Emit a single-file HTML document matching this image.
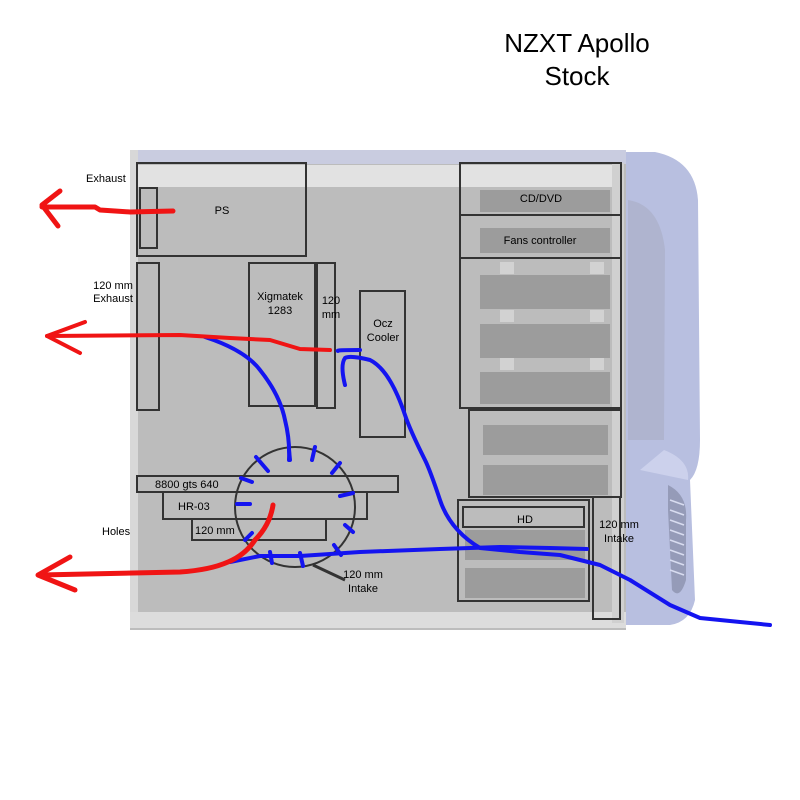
<!DOCTYPE html>
<html><head><meta charset="utf-8"><style>
html,body{margin:0;padding:0;background:#fff;}
svg{display:block;}
text{font-family:"Liberation Sans",sans-serif;fill:#000;}
</style></head><body>
<svg width="800" height="800" viewBox="0 0 800 800" xmlns="http://www.w3.org/2000/svg">
<rect width="800" height="800" fill="#fff"/>
<text x="577" y="52" font-size="26" text-anchor="middle">NZXT Apollo</text>
<text x="577" y="85" font-size="26" text-anchor="middle">Stock</text>
<!-- front panel -->
<path d="M600 152 L655 152 Q695 160 698 200 L700 440 Q700 470 690 480 L695 600 Q690 622 670 625 L600 625 Z" fill="#b8bfe0"/>
<path d="M628 200 Q660 205 665 250 L664 440 L628 440 Z" fill="#a6a9bd" opacity="0.5"/>
<path d="M664 450 Q690 460 688 480 L640 470 Z" fill="#ccd1ec"/>
<path d="M668 485 Q688 495 686 520 L686 580 Q680 600 672 590 L668 510 Z" fill="#959bb8"/>
<g stroke="#d8dcf0" stroke-width="1.5">
<line x1="670" y1="500" x2="684" y2="505"/><line x1="670" y1="510" x2="684" y2="515"/><line x1="670" y1="520" x2="684" y2="525"/><line x1="670" y1="530" x2="684" y2="535"/><line x1="670" y1="540" x2="684" y2="545"/><line x1="670" y1="550" x2="684" y2="555"/><line x1="670" y1="560" x2="684" y2="565"/><line x1="670" y1="570" x2="684" y2="575"/>
</g>
<!-- case body -->
<rect x="130" y="150" width="496" height="480" fill="#bcbcbc"/>
<rect x="130" y="150" width="496" height="14" fill="#c9cce0"/>
<rect x="137" y="165" width="484" height="22" fill="#e2e2e2"/>
<rect x="130" y="150" width="8" height="478" fill="#d8d8d8"/>
<rect x="130" y="612" width="496" height="16" fill="#dcdcdc"/>
<rect x="612" y="163" width="12" height="460" fill="#d0d0d0"/>
<g fill="#9c9c9c">
<rect x="480" y="190" width="130" height="22"/><rect x="480" y="228" width="130" height="25"/>
<rect x="480" y="275" width="130" height="34"/><rect x="480" y="324" width="130" height="34"/><rect x="480" y="372" width="130" height="32"/>
<rect x="483" y="425" width="125" height="30"/><rect x="483" y="465" width="125" height="30"/>
<rect x="465" y="530" width="120" height="30"/><rect x="465" y="568" width="120" height="30"/>
</g>
<g fill="#d2d2d2"><rect x="500" y="262" width="14" height="12"/><rect x="590" y="262" width="14" height="12"/><rect x="500" y="310" width="14" height="12"/><rect x="590" y="310" width="14" height="12"/><rect x="500" y="358" width="14" height="12"/><rect x="590" y="358" width="14" height="12"/></g>
<g fill="none" stroke="#333" stroke-width="2">
<rect x="137" y="163" width="169" height="93"/>
<rect x="140" y="188" width="17" height="60"/>
<rect x="137" y="263" width="22" height="147"/>
<rect x="249" y="263" width="66" height="143"/>
<rect x="317" y="263" width="18" height="145"/>
<rect x="360" y="291" width="45" height="146"/>
<rect x="460" y="163" width="161" height="52"/>
<rect x="460" y="215" width="161" height="43"/>
<rect x="460" y="258" width="161" height="150"/>
<rect x="469" y="410" width="152" height="87"/>
<rect x="458" y="500" width="131" height="101"/>
<rect x="463" y="507" width="121" height="20"/>
<rect x="593" y="497" width="27" height="122"/>
<rect x="137" y="476" width="261" height="16"/>
<rect x="163" y="492" width="204" height="27"/>
<rect x="192" y="519" width="134" height="21"/>
<circle cx="295" cy="507" r="60"/>
</g>
<line x1="313" y1="565" x2="345" y2="580" stroke="#333" stroke-width="3"/>
<g font-size="11">
<text x="86" y="182">Exhaust</text>
<text x="222" y="214" text-anchor="middle">PS</text>
<text x="113" y="289" text-anchor="middle">120 mm</text>
<text x="113" y="302" text-anchor="middle">Exhaust</text>
<text x="280" y="300" text-anchor="middle">Xigmatek</text>
<text x="280" y="314" text-anchor="middle">1283</text>
<text x="331" y="304" text-anchor="middle">120</text>
<text x="331" y="318" text-anchor="middle">mm</text>
<text x="383" y="327" text-anchor="middle">Ocz</text>
<text x="383" y="341" text-anchor="middle">Cooler</text>
<text x="541" y="202" text-anchor="middle">CD/DVD</text>
<text x="540" y="244" text-anchor="middle">Fans controller</text>
<text x="525" y="523" text-anchor="middle">HD</text>
<text x="619" y="528" text-anchor="middle">120 mm</text>
<text x="619" y="542" text-anchor="middle">Intake</text>
<text x="155" y="488">8800 gts 640</text>
<text x="178" y="510">HR-03</text>
<text x="195" y="534">120 mm</text>
<text x="102" y="535">Holes</text>
<text x="363" y="578" text-anchor="middle">120 mm</text>
<text x="363" y="592" text-anchor="middle">Intake</text>
</g>
<g fill="none" stroke="#1414f0" stroke-width="4" stroke-linecap="round" stroke-linejoin="round">
<path d="M770 625 L740 622 L700 618 L670 605 L630 580 L600 565 L560 555 L520 552 L480 548 Q450 530 440 500 Q430 470 425 460 Q410 430 405 415 Q390 370 370 360 Q350 355 345 358 Q340 365 345 385"/>
<path d="M338 351 Q335 350 360 350"/>
<path d="M587 549 L550 548 L500 547 L440 549 L360 552 L300 556 L260 556 L230 562"/>
<path d="M205 337 Q245 350 260 370 Q280 395 285 420 Q290 440 289 460"/>
</g>
<g stroke="#1414f0" stroke-width="4" stroke-linecap="round">
<line x1="289" y1="450" x2="290" y2="460"/>
<line x1="315" y1="447" x2="312" y2="460"/>
<line x1="340" y1="463" x2="332" y2="473"/>
<line x1="353" y1="493" x2="340" y2="496"/>
<line x1="353" y1="532" x2="345" y2="525"/>
<line x1="341" y1="555" x2="334" y2="545"/>
<line x1="303" y1="566" x2="300" y2="553"/>
<line x1="272" y1="563" x2="270" y2="552"/>
<line x1="245" y1="540" x2="252" y2="533"/>
<line x1="237" y1="504" x2="250" y2="504"/>
<line x1="241" y1="478" x2="252" y2="482"/>
<line x1="256" y1="457" x2="268" y2="471"/>
</g>
<g fill="none" stroke="#f01414" stroke-width="5" stroke-linecap="round" stroke-linejoin="round">
<path d="M173 211 L130 212 L100 210 L95 207 L42 207"/>
<path d="M60 191 L42 205 L58 226"/>
<path d="M330 350 L300 349 L270 340 L230 338 L180 335 L47 336" stroke-width="4"/>
<path d="M85 322 L47 336 L80 353" stroke-width="4"/>
<path d="M273 505 Q270 525 255 540 Q245 555 228 562 Q210 570 180 572 L40 575"/>
<path d="M70 557 L38 575 L75 590"/>
</g>
</svg>
</body></html>
